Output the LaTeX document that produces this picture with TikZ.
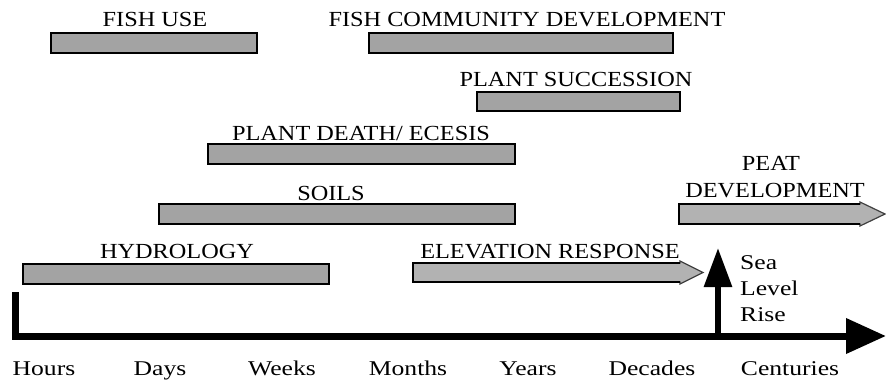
\documentclass[tikz,border=0pt]{standalone}
\usepackage{fontspec}
\setmainfont{Liberation Serif}
\newfontfamily\capsfont[FakeStretch=1.13]{Liberation Serif}
\newfontfamily\tickfont[FakeStretch=1.22]{Liberation Serif}
\usetikzlibrary{arrows.meta}
\tikzset{
  bar/.style={draw=black, line width=1.6pt, fill=black!36, inner sep=0pt, anchor=north west},
  arrowbar/.style={draw=black!75, line width=1.2pt, fill=black!30},
  lbl/.style={font=\capsfont\fontsize{21.5}{25}\selectfont, inner sep=0pt, anchor=base},
  tick/.style={font=\tickfont\fontsize{21}{26}\selectfont, inner sep=0pt, anchor=base},
  axis/.style={line width=7pt, -{Triangle[length=40pt,width=34pt]}},
  slr/.style={line width=6pt, -{Triangle[length=39pt,width=27pt]}}
}
\begin{document}
\begin{tikzpicture}[x=1pt,y=-1pt]
\useasboundingbox (0,0) rectangle (886,381);
% bars
\node[bar, minimum width=206pt, minimum height=20pt] (fishuse) at (50,32) {};
\node[bar, minimum width=304pt, minimum height=20pt] (fishcom) at (368,32) {};
\node[bar, minimum width=203pt, minimum height=19pt] (plantsuc) at (476,91) {};
\node[bar, minimum width=307pt, minimum height=20pt] (plantdeath) at (207,143) {};
\node[bar, minimum width=356pt, minimum height=20pt] (soils) at (158,203) {};
\node[bar, minimum width=306pt, minimum height=20pt] (hydro) at (22,263) {};
% arrow bars
\path[arrowbar] (679,204) -- (860,204) -- (860,202) -- (885,214) -- (860,226) -- (860,224) -- (679,224) -- cycle;
\draw[black, line width=1.6pt] (679,204) -- (860,204) (679,224) -- (860,224) (679,203.2) -- (679,224.8);
\path[arrowbar] (413,263) -- (680,263) -- (680,261) -- (703,272.5) -- (680,284) -- (680,282) -- (413,282) -- cycle;
\draw[black, line width=1.6pt] (413,263) -- (680,263) (413,282) -- (680,282) (413,262.2) -- (413,282.8);
% labels
\node[lbl] (lfishuse) at (155,26) {FISH USE};
\node[lbl] (lfishcom) at (527,26) {FISH COMMUNITY DEVELOPMENT};
\node[lbl] (lplantsuc) at (576,86) {PLANT SUCCESSION};
\node[lbl] (lplantdeath) at (361,140) {PLANT DEATH/ ECESIS};
\node[lbl] (lsoils) at (331,200) {SOILS};
\node[lbl] (lpeat) at (771,170) {PEAT};
\node[lbl] (ldev) at (775,197) {DEVELOPMENT};
\node[lbl] (lhydro) at (177,258) {HYDROLOGY};
\node[lbl] (lelev) at (550,258) {ELEVATION RESPONSE};
% axis
\coordinate (origin) at (15,292);
\coordinate (xend) at (886,336);
\draw[axis] (origin) |- (xend);
\coordinate (slrbase) at (718,339);
\coordinate (slrtip) at (718,248);
\draw[slr] (slrbase) -- (slrtip);
\node[tick, anchor=base west] (lsea) at (740,269) {Sea};
\node[tick, anchor=base west] (llevel) at (740,295) {Level};
\node[tick, anchor=base west] (lrise) at (740,321) {Rise};
% time labels
\node[tick] (thours) at (44,375) {Hours};
\node[tick] (tdays) at (160,375) {Days};
\node[tick] (tweeks) at (282,375) {Weeks};
\node[tick] (tmonths) at (408,375) {Months};
\node[tick] (tyears) at (528,375) {Years};
\node[tick] (tdecades) at (652,375) {Decades};
\node[tick] (tcent) at (790,375) {Centuries};
\end{tikzpicture}
\end{document}
